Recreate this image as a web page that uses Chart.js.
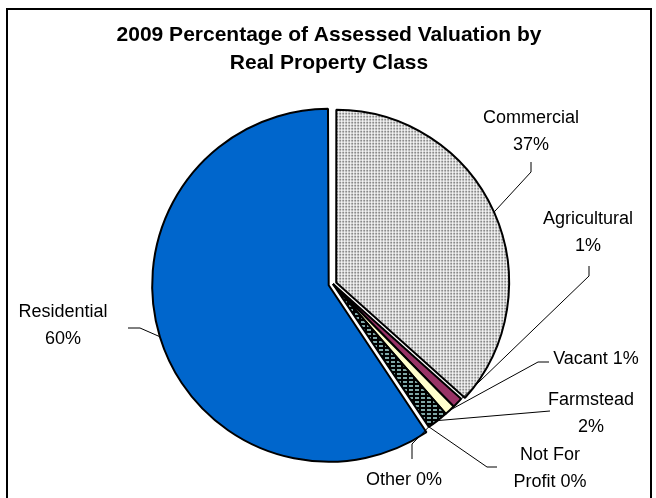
<!DOCTYPE html>
<html>
<head>
<meta charset="utf-8">
<script src="https://cdn.jsdelivr.net/npm/chart.js@4"></script>
<style>
  html, body { margin: 0; padding: 0; background: #fff; }
  #wrap { position: relative; width: 656px; height: 498px; overflow: hidden; }
  #frame { position: absolute; left: 6px; top: 8px; width: 642px; height: 520px; border: 2px solid #000; }
  canvas { position: absolute; left: 0; top: 0; }
</style>
</head>
<body>
<div id="wrap">
  <div id="frame"></div>
  <canvas id="myChart" width="656" height="498"></canvas>
</div>
<script>
const titleLines = ['2009 Percentage of Assessed Valuation by', 'Real Property Class'];
const categories = ['Commercial', 'Agricultural', 'Vacant', 'Farmstead', 'Not For Profit', 'Other', 'Residential'];
const percents = [37, 1, 1, 2, 0, 0, 60];

// how each label is broken into lines
const labelText = [
  ['Commercial', '37%'],
  ['Agricultural', '1%'],
  ['Vacant 1%'],
  ['Farmstead', '2%'],
  ['Not For', 'Profit 0%'],
  ['Other 0%'],
  ['Residential', '60%']
];
// label centres and leader elbows (layout only)
const labelPos = [[531, 118], [588, 219], [596, 359], [591, 400], [550, 455], [404, 480], [63, 312]];
const leaderPts = [
  [[531, 172], [531, 162]],
  [[589, 276], [589, 266]],
  [[538, 362], [549, 362]],
  [[550, 411]],
  [[487, 467], [497, 467]],
  [[412, 444], [412, 459]],
  [[140, 328], [128, 328]]
];

const dotPattern = () => {
  const c = document.createElement('canvas');
  c.width = 3; c.height = 3;
  const g = c.getContext('2d');
  g.fillStyle = '#fff'; g.fillRect(0, 0, 3, 3);
  g.fillStyle = '#8a8a8a'; g.fillRect(0, 0, 2, 2);
  return g.createPattern(c, 'repeat');
};
const dashPattern = () => {
  const c = document.createElement('canvas');
  c.width = 6; c.height = 4;
  const g = c.getContext('2d');
  g.fillStyle = '#000'; g.fillRect(0, 0, 6, 4);
  g.fillStyle = '#7fa7a7'; g.fillRect(1, 1, 4, 2);
  return g.createPattern(c, 'repeat');
};

const ctx = document.getElementById('myChart').getContext('2d');
const colors = [dotPattern(), '#993366', '#ffffcc', dashPattern(), '#666699', '#cccccc', '#0066cc'];
const offsets = [14, 0, 0, 0, 0, 0, 18];

const sliceLabels = {
  id: 'sliceLabels',
  afterDraw(chart) {
    const c = chart.ctx;
    const meta = chart.getDatasetMeta(0);
    c.save();
    c.fillStyle = '#000';
    c.textAlign = 'center';
    c.textBaseline = 'middle';
    c.font = 'bold 21px "Liberation Sans", Arial, sans-serif';
    titleLines.forEach((t, i) => c.fillText(t, 329, 35 + i * 28));

    c.strokeStyle = '#000';
    c.lineWidth = 1;
    meta.data.forEach((arc, i) => {
      const mid = (arc.startAngle + arc.endAngle) / 2;
      const o = (offsets[i] || 0) / 4;
      const circ = arc.endAngle - arc.startAngle;
      const fix = 1 - Math.sin(Math.min(Math.PI, circ));
      const r = arc.outerRadius + o * fix + o;
      c.beginPath();
      c.moveTo(arc.x + Math.cos(mid) * r, arc.y + Math.sin(mid) * r);
      leaderPts[i].forEach(p => c.lineTo(p[0], p[1]));
      c.stroke();
    });

    c.font = '18px "Liberation Sans", Arial, sans-serif';
    labelText.forEach((lines, i) => {
      lines.forEach((t, j) => c.fillText(t, labelPos[i][0], labelPos[i][1] + j * 27));
    });
    c.restore();
  }
};

const myChart = new Chart(ctx, {
  type: 'pie',
  data: {
    labels: categories,
    datasets: [{
      data: percents,
      backgroundColor: colors,
      borderColor: '#000',
      borderWidth: 2,
      offset: offsets,
      radius: 172
    }]
  },
  options: {
    responsive: false,
    animation: false,
    layout: { padding: { top: 80, bottom: 10, left: 10, right: 0 } },
    plugins: {
      legend: { display: false },
      title: { display: false },
      tooltip: { enabled: false }
    }
  },
  plugins: [sliceLabels]
});
</script>
</body>
</html>
